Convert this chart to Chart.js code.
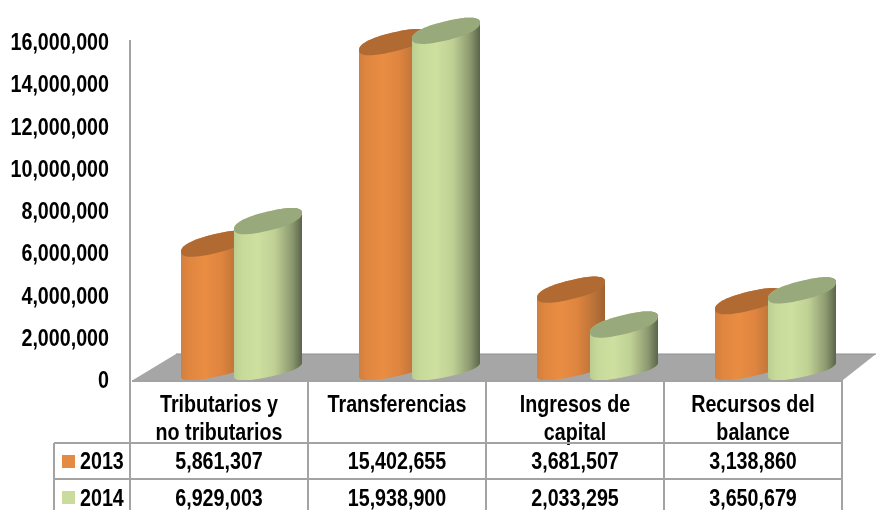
<!DOCTYPE html>
<html><head><meta charset="utf-8">
<style>html,body{margin:0;padding:0;background:#fff}canvas{display:block}</style>
<script src="https://cdn.jsdelivr.net/npm/chart.js@4"></script>
</head><body><canvas id="c" width="876" height="510"></canvas>
<script>
const categories = [["Tributarios y","no tributarios"],["Transferencias"],["Ingresos de","capital"],["Recursos del","balance"]];
const series2013 = [5861307,15402655,3681507,3138860];
const series2014 = [6929003,15938900,2033295,3650679];
const seriesNames = ["2013","2014"];
const seriesColors = ["#e58a42","#c9dc9c"];
const FONT = '"Liberation Sans",Arial,sans-serif';
const LINE = '#a3a3a3';
const fmt = v => Number(v).toLocaleString('en-US');

const canvas=document.getElementById('c');
const rawCtx=canvas.getContext('2d');
const origFill=rawCtx.fillText.bind(rawCtx);
// The reference uses a narrow bold face: condense every label horizontally.
rawCtx.fillText=function(t,x,y){
  rawCtx.save();
  rawCtx.translate(x,y+(rawCtx.textBaseline==='middle'?1.5:0));
  rawCtx.scale(0.82,1);
  origFill(t,0,0);
  rawCtx.restore();
};

const looks = [
  {stops:[[0,'#d27f3e'],[0.12,'#e0863f'],[0.35,'#ea8d43'],[0.6,'#dd843f'],[0.85,'#b87238'],[1,'#a06232']],top:'#b16b32'},
  {stops:[[0,'#bccd91'],[0.12,'#c8da9a'],[0.35,'#cde09f'],[0.6,'#bfd094'],[0.85,'#8d9a70'],[1,'#5a6549']],top:'#98a97b'}
];
function ellipse(ctx,cx,cy,a,ka,b,from,to,move){
  const n=60, p=0.85;
  for(let i=0;i<=n;i++){
    const t=from+(to-from)*i/n;
    const c=Math.sign(Math.cos(t))*Math.pow(Math.abs(Math.cos(t)),p);
    const s=Math.sign(Math.sin(t))*Math.pow(Math.abs(Math.sin(t)),p);
    const x=cx+a*c, y=cy+b*s-ka*c;
    if(i===0&&move) ctx.moveTo(x,y); else ctx.lineTo(x,y);
  }
}
const scene={
  id:'scene',
  beforeDatasetsDraw(chart){
    const {ctx,chartArea:A}=chart;
    ctx.save();
    ctx.beginPath();ctx.moveTo(A.left+3,A.bottom);ctx.lineTo(A.left+46,354);ctx.lineTo(876,354);ctx.lineTo(A.right+1,A.bottom);ctx.closePath();
    ctx.fillStyle='#a6a6a6';ctx.fill();
    ctx.beginPath();ctx.moveTo(A.left+46,354);ctx.lineTo(876,354);ctx.strokeStyle='#8f8f8f';ctx.lineWidth=1;ctx.stroke();
    chart.data.datasets.forEach((ds,di)=>{
      const L=looks[di];
      chart.getDatasetMeta(di).data.forEach(bar=>{
        const left=bar.x-bar.width/2+15, a=34, cx=left+a;
        const topC=bar.y-12.5, baseC=bar.base-10.5;
        const g=ctx.createLinearGradient(left,0,left+2*a,0);
        L.stops.forEach(s=>g.addColorStop(s[0],s[1]));
        ctx.beginPath();
        ellipse(ctx,cx,topC,a,8,9.6,Math.PI,2*Math.PI,true);
        ellipse(ctx,cx,baseC,a,7,7.6,0,Math.PI,false);
        ctx.closePath();ctx.fillStyle=g;ctx.fill();
        ctx.beginPath();
        ellipse(ctx,cx,topC,a,8,9.6,0,2*Math.PI,true);
        ctx.closePath();ctx.fillStyle=L.top;ctx.fill();
      });
    });
    ctx.restore();
  },
  beforeDatasetDraw(){return false;},
  afterDraw(chart){
    const {ctx,chartArea:A,scales:{x}}=chart;
    ctx.save();
    ctx.strokeStyle=LINE;ctx.lineWidth=2;
    const rows=[443,479];
    const colEdges=[A.left];
    categories.forEach((c,i)=>colEdges.push(A.left+(A.right-A.left)*(i+1)/categories.length));
    ctx.beginPath();
    ctx.moveTo(A.left,40);ctx.lineTo(A.left,A.top);
    ctx.moveTo(A.left+2,A.bottom+1);ctx.lineTo(A.right,A.bottom+1);
    colEdges.forEach(e=>{ctx.moveTo(e,A.bottom);ctx.lineTo(e,510);});
    ctx.moveTo(54,rows[0]);ctx.lineTo(54,510);
    rows.forEach(r=>{ctx.moveTo(54,r);ctx.lineTo(A.right,r);});
    ctx.stroke();
    ctx.fillStyle='#000';ctx.font='bold 24px '+FONT;ctx.textBaseline='middle';
    const rowY=[461,498], keyY=[455,491];
    chart.data.datasets.forEach((ds,di)=>{
      ctx.fillStyle=seriesColors[di];ctx.fillRect(62,keyY[di],13,13);
      ctx.fillStyle='#000';ctx.textAlign='left';ctx.fillText(seriesNames[di],80,rowY[di]);
      ctx.textAlign='center';
      ds.data.forEach((v,i)=>ctx.fillText(fmt(v),x.getPixelForValue(i),rowY[di]));
    });
    ctx.restore();
  }
};
new Chart(canvas,{
  type:'bar',
  data:{labels:categories,datasets:[
    {label:seriesNames[0],data:series2013,backgroundColor:seriesColors[0]},
    {label:seriesNames[1],data:series2014,backgroundColor:seriesColors[1]}
  ]},
  options:{
    responsive:false,animation:false,
    layout:{padding:{left:0,right:34,top:42,bottom:0}},
    categoryPercentage:0.5955,barPercentage:1,
    plugins:{legend:{display:false},tooltip:{enabled:false},title:{display:false}},
    scales:{
      x:{grid:{display:false,drawTicks:false},border:{display:false},
         afterFit(s){s.height=130;},
         ticks:{autoSkip:false,maxRotation:0,minRotation:0,padding:10,color:'#000',font:{family:FONT,size:24,weight:'bold',lineHeight:1.17}}},
      y:{min:0,max:16000000,grid:{display:false,drawTicks:false},
         border:{display:true,color:LINE,width:2},
         afterFit(s){s.width=130;},
         ticks:{stepSize:2000000,padding:21,color:'#000',callback:v=>fmt(v),font:{family:FONT,size:24,weight:'bold'}}}
    }
  },
  plugins:[scene]
});
</script></body></html>
